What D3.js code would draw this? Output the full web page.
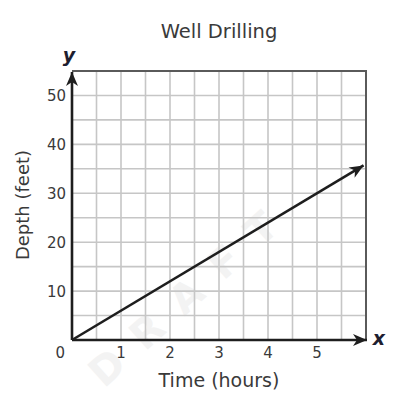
<!DOCTYPE html>
<html><head><meta charset="utf-8">
<script src="https://cdn.jsdelivr.net/npm/d3@7"></script>
<style>html,body{margin:0;padding:0;background:#fff;}svg{display:block;font-family:"DejaVu Sans",Verdana,sans-serif;}</style>
</head><body>
<script>
const title = "Well Drilling";
const xLabel = "Time (hours)";
const yLabel = "Depth (feet)";
const xTicks = [1, 2, 3, 4, 5];
const yTicks = [10, 20, 30, 40, 50];
const xGrid = [0.5, 1, 1.5, 2, 2.5, 3, 3.5, 4, 4.5, 5, 5.5];
const yGrid = [5, 10, 15, 20, 25, 30, 35, 40, 45, 50];
const timeHours = [0, 5.95];
const depthFeet = [0, 35.7];

const W = 402, H = 400;
const svg = d3.select("body").append("svg").attr("width", W).attr("height", H);
const x = d3.scaleLinear().domain([0, 6]).range([72, 366]);
const y = d3.scaleLinear().domain([0, 55]).range([340, 71]);

const defs = svg.append("defs");
defs.append("marker").attr("id", "ah").attr("viewBox", "0 0 14 12")
  .attr("refX", 14).attr("refY", 6).attr("markerWidth", 14).attr("markerHeight", 12)
  .attr("markerUnits", "userSpaceOnUse").attr("orient", "auto")
  .append("path").attr("d", "M0,0 L14,6 L0,12 L4,6 Z").attr("fill", "#1e1e1e");

// watermark
svg.append("text").attr("x", 193).attr("y", 294)
  .attr("transform", "rotate(-42,193,294)")
  .attr("text-anchor", "middle").attr("dominant-baseline", "middle")
  .attr("font-size", 40).attr("font-weight", "bold").attr("letter-spacing", 22)
  .attr("fill", "#f3f3f3").text("DRAFT");

// grid
svg.append("g").selectAll("line").data(xGrid).join("line")
  .attr("x1", d => x(d)).attr("x2", d => x(d)).attr("y1", y(55)).attr("y2", y(0))
  .attr("stroke", "#c6c6c6").attr("stroke-width", 1.6);
svg.append("g").selectAll("line").data(yGrid).join("line")
  .attr("y1", d => y(d)).attr("y2", d => y(d)).attr("x1", x(0)).attr("x2", x(6))
  .attr("stroke", "#c6c6c6").attr("stroke-width", 1.6);

// border top/right
svg.append("path").attr("d", `M${x(0)},${y(55)} H${x(6)} V${y(0)}`)
  .attr("fill", "none").attr("stroke", "#5a5a5a").attr("stroke-width", 2);

// axes with arrows
svg.append("line").attr("x1", x(0)).attr("y1", y(0)).attr("x2", x(6) + 1).attr("y2", y(0))
  .attr("stroke", "#1e1e1e").attr("stroke-width", 2.6).attr("marker-end", "url(#ah)");
svg.append("line").attr("x1", x(0)).attr("y1", y(0)).attr("x2", x(0)).attr("y2", y(55) + 1)
  .attr("stroke", "#1e1e1e").attr("stroke-width", 2.6).attr("marker-end", "url(#ah)");

// data line
const pts = timeHours.map((t, i) => [x(t), y(depthFeet[i])]);
svg.append("path").attr("d", d3.line()(pts)).attr("fill", "none")
  .attr("stroke", "#1e1e1e").attr("stroke-width", 2.6).attr("marker-end", "url(#ah)");

// tick labels
const txtCol = "#3a3a3a";
svg.append("g").selectAll("text").data(xTicks).join("text")
  .attr("x", d => x(d)).attr("y", 357.5).attr("text-anchor", "middle")
  .attr("font-size", 15).attr("fill", txtCol).text(d => d);
svg.append("g").selectAll("text").data(yTicks).join("text")
  .attr("x", 66).attr("y", d => y(d) + 5.5).attr("text-anchor", "end")
  .attr("font-size", 15).attr("fill", txtCol).text(d => d);
svg.append("text").attr("x", 65).attr("y", 357.5).attr("text-anchor", "end")
  .attr("font-size", 15).attr("fill", txtCol).text("0");

// axis letters
svg.append("text").attr("x", 69).attr("y", 62).attr("text-anchor", "middle")
  .attr("font-size", 19).attr("font-weight", "bold").attr("font-style", "italic")
  .attr("fill", "#1e1e30").text("y");
svg.append("text").attr("x", 379).attr("y", 345).attr("text-anchor", "middle")
  .attr("font-size", 19).attr("font-weight", "bold").attr("font-style", "italic")
  .attr("fill", "#1e1e30").text("x");

// titles
svg.append("text").attr("x", 219).attr("y", 38).attr("text-anchor", "middle")
  .attr("font-size", 19.5).attr("fill", txtCol).text(title);
svg.append("text").attr("x", 219).attr("y", 387).attr("text-anchor", "middle")
  .attr("font-size", 19).attr("fill", txtCol).text(xLabel);
svg.append("text").attr("transform", "translate(29,205) rotate(-90)").attr("text-anchor", "middle")
  .attr("font-size", 18).attr("fill", txtCol).text(yLabel);
</script>
</body></html>
